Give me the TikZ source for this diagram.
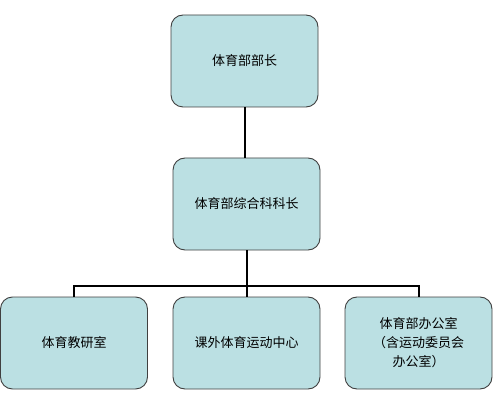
\documentclass[tikz,border=0pt]{standalone}
\usepackage{fontspec}
\newfontfamily\cjk{Noto Sans CJK SC}
\begin{document}
\begin{tikzpicture}[x=1pt,y=-1pt,
  box/.style={draw=black!75, line width=0.9pt, fill={rgb,255:red,187;green,224;blue,227}, rounded corners=12pt, minimum width=147pt, minimum height=92pt, inner sep=0pt, font=\cjk\fontsize{13}{19}\selectfont, align=center},
  conn/.style={line width=2pt, black}]
\useasboundingbox (0,0) rectangle (500,403);
\node[box] (a) at (244.5,61) {体育部部长};
\node[box] (b) at (246.5,204) {体育部综合科科长};
\node[box] (c) at (74,343) {体育教研室};
\node[box] (d) at (246.5,343) {课外体育运动中心};
\node[box] (e) at (418.5,343) {体育部办公室\\（含运动委员会\\办公室）};
\coordinate (j) at (246.5,286);
\draw[conn] (a.south) -- (a.south |- b.north);
\draw[conn] (b.south) -- (j);
\draw[conn] (c.north) |- (j) -| (e.north);
\draw[conn] (j) -- (d.north);
\end{tikzpicture}
\end{document}
